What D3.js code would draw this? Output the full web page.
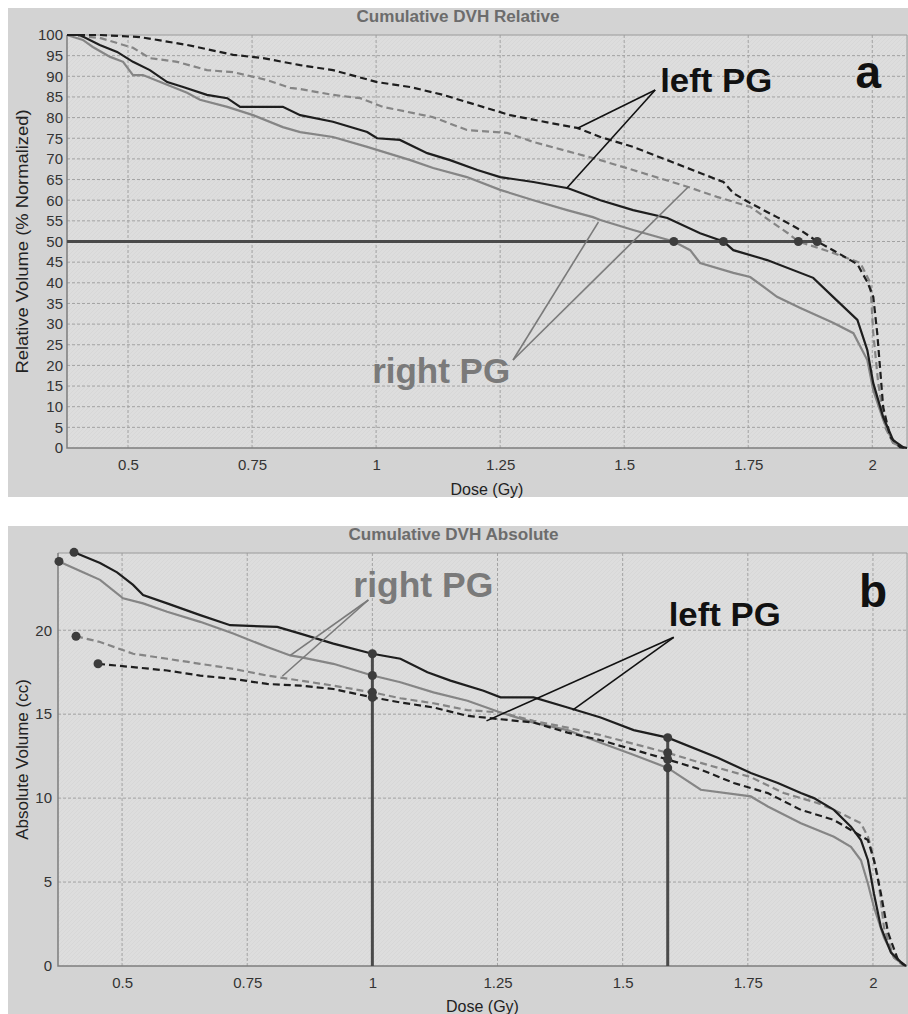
<!DOCTYPE html>
<html>
<head>
<meta charset="utf-8">
<script src="https://cdn.jsdelivr.net/npm/d3@7"></script>
<style>
  body { margin: 0; background: #fff; }
  svg { display: block; font-family: "Liberation Sans", Arial, sans-serif; }
</style>
</head>
<body>
<div id="chart"></div>
<script>
// tick labels
const doseTicks = [0.5, 0.75, 1, 1.25, 1.5, 1.75, 2];
const relTicks = [0, 5, 10, 15, 20, 25, 30, 35, 40, 45, 50, 55, 60, 65, 70, 75, 80, 85, 90, 95, 100];
const absTicks = [0, 5, 10, 15, 20];

// panel a: relative DVH [dose Gy, volume %]
const relLeftSolid = [[0.377,100],[0.403,100],[0.443,97.6],[0.478,95.9],[0.51,93.5],[0.544,91.5],[0.579,88.6],[0.611,87.4],[0.659,85.5],[0.7,84.7],[0.726,82.6],[0.812,82.6],[0.847,80.6],[0.913,79],[0.982,76.5],[1.002,75],[1.048,74.6],[1.103,71.4],[1.149,69.7],[1.204,67.3],[1.25,65.6],[1.317,64.4],[1.387,62.9],[1.452,60],[1.518,57.6],[1.587,55.7],[1.653,52],[1.7,50],[1.72,47.9],[1.788,45.5],[1.881,41.2],[1.921,36.6],[1.97,31],[1.99,23.7],[2.002,15.7],[2.022,7.5],[2.042,1.9],[2.062,0.2],[2.07,0]];
const relRightSolid = [[0.377,100],[0.409,98.8],[0.429,97.1],[0.464,94.7],[0.49,93.5],[0.51,90.3],[0.53,90.3],[0.565,88.6],[0.619,86],[0.645,84.3],[0.7,82.6],[0.752,80.6],[0.812,77.7],[0.847,76.5],[0.913,75.3],[0.982,72.9],[1.069,69.7],[1.115,67.8],[1.183,65.6],[1.25,62.5],[1.317,60],[1.385,57.6],[1.437,55.9],[1.452,55.2],[1.518,52.8],[1.6,50],[1.633,47.9],[1.653,44.8],[1.72,42.4],[1.754,41.4],[1.808,36.6],[1.855,33.9],[1.921,30.3],[1.962,27.8],[1.99,21.3],[2.002,14],[2.022,6.8],[2.042,1.2],[2.062,0.1],[2.07,0]];
const relLeftDashed = [[0.377,100],[0.443,100],[0.524,99.5],[0.619,97.6],[0.712,95.2],[0.772,94.4],[0.847,92.7],[0.913,91.5],[1.002,88.6],[1.069,87.4],[1.135,85.5],[1.204,83],[1.27,80.6],[1.351,78.7],[1.405,77.5],[1.452,75.3],[1.518,72.9],[1.587,69.7],[1.653,66.6],[1.7,64.4],[1.72,61.7],[1.754,59.3],[1.808,55.9],[1.855,52.8],[1.889,50],[1.921,47.9],[1.97,44.5],[1.99,40.2],[2.002,36.6],[2.01,27.8],[2.016,18.9],[2.022,9.9],[2.036,2.7],[2.056,0.2],[2.07,0]];
const relRightDashed = [[0.377,100],[0.443,99.3],[0.51,96.9],[0.544,94.4],[0.599,93.5],[0.659,91.5],[0.712,91],[0.78,89.1],[0.827,87.2],[0.847,86.9],[0.913,85.5],[0.968,84.7],[1.014,82.6],[1.115,80.1],[1.183,77],[1.264,76.3],[1.317,74.1],[1.452,69.7],[1.518,67.3],[1.629,63.2],[1.687,60.8],[1.754,58.4],[1.8,54.5],[1.83,52],[1.851,50],[1.915,47.5],[1.976,44.8],[1.996,40],[2.002,27.8],[2.012,15.7],[2.026,5],[2.042,1.2],[2.062,0]];
const relMarkers = [[1.6,50],[1.7,50],[1.851,50],[1.889,50]];
const relLevel = [[0.377,50],[1.889,50]];

// panel b: absolute DVH [dose Gy, volume cc]
const absLeftSolid = [[0.404,24.64],[0.456,24.0],[0.49,23.45],[0.522,22.7],[0.542,22.1],[0.59,21.6],[0.656,20.9],[0.716,20.3],[0.81,20.2],[0.856,19.8],[0.922,19.2],[1.0,18.6],[1.056,18.3],[1.11,17.5],[1.156,17.0],[1.222,16.4],[1.256,16.0],[1.322,16.0],[1.39,15.4],[1.456,14.8],[1.522,14.05],[1.59,13.6],[1.69,12.4],[1.756,11.5],[1.81,10.9],[1.856,10.3],[1.882,10.0],[1.922,9.3],[1.956,8.3],[1.976,7.5],[1.99,6.3],[2.002,4.3],[2.016,2.3],[2.036,0.8],[2.062,0.05]];
const absRightSolid = [[0.374,24.1],[0.422,23.45],[0.456,23.0],[0.502,21.9],[0.542,21.6],[0.59,21.1],[0.656,20.5],[0.722,19.8],[0.79,19.0],[0.836,18.5],[0.856,18.4],[0.922,18.0],[1.0,17.3],[1.056,16.9],[1.122,16.3],[1.19,15.8],[1.256,15.1],[1.322,14.5],[1.39,14.05],[1.456,13.3],[1.52,12.6],[1.59,11.8],[1.656,10.5],[1.756,10.1],[1.79,9.5],[1.856,8.5],[1.922,7.7],[1.956,7.1],[1.976,6.3],[1.99,4.9],[2.002,3.5],[2.022,1.7],[2.042,0.5],[2.062,0.05]];
const absLeftDashed = [[0.452,18.0],[0.522,17.8],[0.59,17.6],[0.656,17.3],[0.722,17.1],[0.79,16.8],[0.856,16.7],[0.922,16.5],[1.0,16.0],[1.056,15.7],[1.122,15.4],[1.19,14.9],[1.256,14.7],[1.322,14.5],[1.39,13.9],[1.456,13.45],[1.59,12.3],[1.656,11.7],[1.722,10.9],[1.79,10.3],[1.856,9.3],[1.922,8.7],[1.956,8.1],[1.99,7.5],[2.002,6.3],[2.016,4.3],[2.03,2.0],[2.05,0.36],[2.066,0]];
const absRightDashed = [[0.408,19.64],[0.456,19.3],[0.522,18.6],[0.59,18.3],[0.656,18.0],[0.722,17.7],[0.79,17.3],[0.856,17.0],[0.922,16.7],[1.0,16.3],[1.056,15.95],[1.122,15.65],[1.19,15.24],[1.256,15.1],[1.322,14.6],[1.39,14.2],[1.456,13.75],[1.59,12.7],[1.656,12.1],[1.756,11.25],[1.822,10.3],[1.89,9.7],[1.922,9.3],[1.976,8.5],[1.99,7.7],[1.996,7.1],[2.01,5.3],[2.022,2.3],[2.042,0.5],[2.062,0]];
const absMarkers = [[0.404,24.64],[0.374,24.1],[0.408,19.64],[0.452,18.0],[1.0,18.6],[1.0,17.3],[1.0,16.3],[1.0,16.0],[1.59,13.6],[1.59,12.7],[1.59,12.3],[1.59,11.8]];
const absDrops = [[1.0,18.6],[1.59,13.6]];

// annotations: [dose, volume]
const relNotes = [
  { text: "left PG", at: [1.5726, 86.2], size: 34, color: "#111", len: 112 },
  { text: "a", at: [1.966, 87.2], size: 46, color: "#111" },
  { text: "right PG", at: [0.992, 15.7], size: 35, color: "#7a7a7a", len: 138 }
];
const relLeaders = [
  { from: [1.5625, 86.7], to: [[1.407, 77.5], [1.385, 63.0]], color: "#111" },
  { from: [1.276, 21.3], to: [[1.448, 54.7], [1.629, 63.2]], color: "#7a7a7a" }
];
const absNotes = [
  { text: "right PG", at: [0.962, 21.96], size: 35, color: "#7a7a7a", len: 140 },
  { text: "left PG", at: [1.592, 20.24], size: 34, color: "#111", len: 112 },
  { text: "b", at: [1.972, 21.37], size: 46, color: "#111" }
];
const absLeaders = [
  { from: [0.992, 21.8], to: [[0.836, 18.5], [0.82, 17.26]], color: "#7a7a7a" },
  { from: [1.602, 19.58], to: [[1.228, 14.6], [1.40, 15.24]], color: "#111" }
];

class DVH_Panel {
  constructor(svg, opts) {
    Object.assign(this, opts);
    this.svg = svg;
    this.draw();
  }

  draw() {
    this.g = this.svg.append("g");
    this.createScales();
    this.drawFrame();
    this.drawGrid();
    this.drawAxis();
    this.drawLines();
    this.drawNotes();
  }

  createScales() {
    this.xScale = d3.scaleLinear().domain(this.xDomain).range([this.plot.left, this.plot.right]);
    this.yScale = d3.scaleLinear().domain(this.yDomain).range([this.plot.bottom, this.plot.top]);
  }

  drawFrame() {
    const o = this.outer, p = this.plot;
    this.g.append("rect")
      .attr("x", o.x).attr("y", o.y).attr("width", o.w).attr("height", o.h)
      .attr("fill", "#d3d3d3");
    this.g.append("rect")
      .attr("x", p.left).attr("y", p.top)
      .attr("width", p.right - p.left).attr("height", p.bottom - p.top)
      .attr("fill", "url(#hatch)");
    this.g.append("text")
      .attr("x", (p.left + p.right) / 2 - 29).attr("y", o.y + 14)
      .attr("text-anchor", "middle")
      .attr("font-size", 16).attr("font-weight", "bold")
      .attr("fill", "#6c6c6c")
      .attr("textLength", this.titleLen).attr("lengthAdjust", "spacingAndGlyphs")
      .text(this.title);
  }

  drawGrid() {
    const grid = this.g.append("g")
      .attr("stroke", "#a2a2a2").attr("stroke-width", 1).attr("stroke-dasharray", "3,2");
    grid.selectAll(".vg").data(doseTicks).join("line")
      .attr("x1", (d) => this.xScale(d)).attr("x2", (d) => this.xScale(d))
      .attr("y1", this.plot.top).attr("y2", this.plot.bottom);
    grid.selectAll(".hg").data(this.yTicks.filter((d) => d > 0 && d < this.yDomain[1])).join("line")
      .attr("x1", this.plot.left).attr("x2", this.plot.right)
      .attr("y1", (d) => this.yScale(d)).attr("y2", (d) => this.yScale(d));
  }

  drawAxis() {
    const p = this.plot;
    // X axis
    const xa = this.g.append("g")
      .attr("transform", `translate(0,${p.bottom})`)
      .call(d3.axisBottom(this.xScale).tickValues(doseTicks).tickSize(0).tickPadding(11)
        .tickFormat((d) => String(d)));
    xa.select(".domain").remove();
    xa.selectAll("text").attr("font-size", 15).attr("fill", "#333").attr("font-family", "Liberation Sans, Arial");

    // Y axis
    const ya = this.g.append("g")
      .attr("transform", `translate(${p.left},0)`)
      .call(d3.axisLeft(this.yScale).tickValues(this.yTicks).tickSize(0).tickPadding(this.yPad));
    ya.select(".domain").remove();
    ya.selectAll("text").attr("font-size", 15).attr("fill", "#333").attr("font-family", "Liberation Sans, Arial");

    // plot border
    this.g.append("path")
      .attr("d", `M${p.left},${p.top}H${p.right}V${p.bottom}`)
      .attr("fill", "none").attr("stroke", "#9a9a9a").attr("stroke-width", 1);
    this.g.append("path")
      .attr("d", `M${p.left},${p.top}V${p.bottom}H${p.right}`)
      .attr("fill", "none").attr("stroke", "#7d7d7d").attr("stroke-width", 1.5);

    this.g.append("text")
      .attr("x", (p.left + p.right) / 2).attr("y", p.bottom + this.xTitleOff)
      .attr("text-anchor", "middle").attr("font-size", 16).attr("fill", "#222")
      .text("Dose (Gy)");
    const yt = this.g.append("text")
      .attr("transform", `translate(28,${(p.top + p.bottom) / 2}) rotate(-90)`)
      .attr("text-anchor", "middle").attr("font-size", 17).attr("fill", "#222")
      .text(this.yTitle);
    if (this.yTitleLen) yt.attr("textLength", this.yTitleLen).attr("lengthAdjust", "spacingAndGlyphs");
  }

  drawLines() {
    const visual = this.g.append("g");
    const line = d3.line()
      .x((d) => this.xScale(d[0]))
      .y((d) => this.yScale(d[1]));

    this.series.forEach((s) => {
      visual.append("path")
        .datum(s.data)
        .attr("d", line)
        .attr("fill", "none")
        .attr("stroke", s.color)
        .attr("stroke-width", 2.2)
        .attr("stroke-dasharray", s.dashed ? "7,4" : null);
    });

    // reference lines
    visual.selectAll(".ref").data(this.refLines).join("path")
      .attr("d", line)
      .attr("fill", "none").attr("stroke", "#4a4a4a").attr("stroke-width", 3);

    visual.selectAll(".dot").data(this.markers).join("circle")
      .attr("cx", (d) => this.xScale(d[0]))
      .attr("cy", (d) => this.yScale(d[1]))
      .attr("r", 4.5)
      .attr("fill", "#3c3c3c");
  }

  drawNotes() {
    const notes = this.g.append("g");
    this.leaders.forEach((l) => {
      l.to.forEach((t) => {
        notes.append("line")
          .attr("x1", this.xScale(l.from[0])).attr("y1", this.yScale(l.from[1]))
          .attr("x2", this.xScale(t[0])).attr("y2", this.yScale(t[1]))
          .attr("stroke", l.color).attr("stroke-width", 1.6);
      });
    });
    this.notes.forEach((n) => {
      const t = notes.append("text")
        .attr("x", this.xScale(n.at[0])).attr("y", this.yScale(n.at[1]))
        .attr("font-size", n.size).attr("font-weight", "bold")
        .attr("fill", n.color)
        .text(n.text);
      if (n.len) t.attr("textLength", n.len).attr("lengthAdjust", "spacingAndGlyphs");
    });
  }
}

const svg = d3.select("#chart").append("svg")
  .attr("width", 908).attr("height", 1014)
  .attr("viewBox", [0, 0, 908, 1014]);

// faint diagonal hatch of the plot background
const pat = svg.append("defs").append("pattern")
  .attr("id", "hatch").attr("patternUnits", "userSpaceOnUse")
  .attr("width", 4).attr("height", 4);
pat.append("rect").attr("width", 4).attr("height", 4).attr("fill", "#dddddd");
pat.append("path").attr("d", "M0,4L4,0").attr("stroke", "#d7d7d7").attr("stroke-width", 1);

new DVH_Panel(svg, {
  outer: { x: 8, y: 8, w: 900, h: 489 },
  plot: { left: 67, top: 35, right: 907, bottom: 448 },
  xDomain: [0.377, 2.07],
  yDomain: [0, 100],
  yTicks: relTicks,
  yPad: 4,
  xTitleOff: 47,
  title: "Cumulative DVH Relative",
  titleLen: 203,
  yTitle: "Relative Volume (% Normalized)",
  yTitleLen: 264,
  series: [
    { data: relRightSolid, color: "#858585" },
    { data: relRightDashed, color: "#858585", dashed: true },
    { data: relLeftSolid, color: "#1e1e1e" },
    { data: relLeftDashed, color: "#1e1e1e", dashed: true }
  ],
  refLines: [relLevel],
  markers: relMarkers,
  notes: relNotes,
  leaders: relLeaders
});

new DVH_Panel(svg, {
  outer: { x: 8, y: 526, w: 900, h: 488 },
  plot: { left: 58, top: 553, right: 907, bottom: 966 },
  xDomain: [0.372, 2.068],
  yDomain: [0, 24.6],
  yTicks: absTicks,
  yPad: 6,
  xTitleOff: 46,
  title: "Cumulative DVH Absolute",
  titleLen: 210,
  yTitle: "Absolute Volume (cc)",
  series: [
    { data: absRightSolid, color: "#858585" },
    { data: absRightDashed, color: "#858585", dashed: true },
    { data: absLeftSolid, color: "#1e1e1e" },
    { data: absLeftDashed, color: "#1e1e1e", dashed: true }
  ],
  refLines: absDrops.map((d) => [[d[0], 0], d]),
  markers: absMarkers,
  notes: absNotes,
  leaders: absLeaders
});
</script>
</body>
</html>
